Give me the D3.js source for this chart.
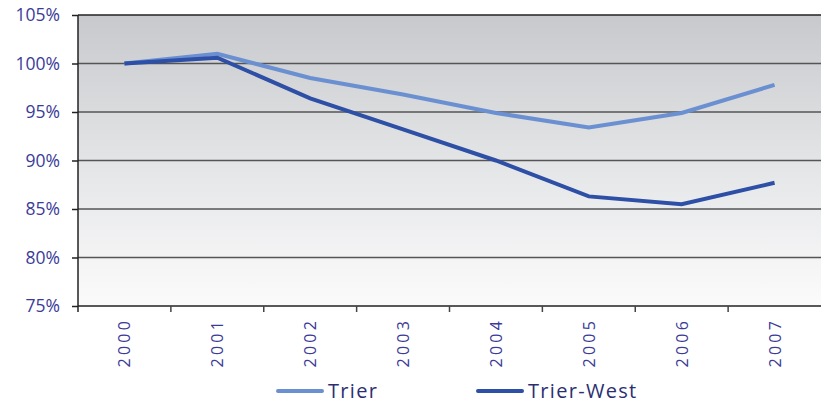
<!DOCTYPE html>
<html>
<head>
<meta charset="utf-8">
<script src="https://cdn.jsdelivr.net/npm/d3@7/dist/d3.min.js"></script>
<style>
  html, body { margin: 0; padding: 0; background: #fff; }
  svg { display: block; }
  text { font-family: "Open Sans", "DejaVu Sans", sans-serif; }
</style>
</head>
<body>
<svg id="chart" width="821" height="404"></svg>
<script>
// Population index, 2000 = 100%
const years = ["2000", "2001", "2002", "2003", "2004", "2005", "2006", "2007"];
const trier = [100.0, 101.0, 98.5, 96.8, 94.9, 93.4, 94.9, 97.8];
const trierWest = [100.0, 100.6, 96.4, 93.2, 90.0, 86.3, 85.5, 87.7];
const yTicks = [75, 80, 85, 90, 95, 100, 105];
const seriesNames = ["Trier", "Trier-West"];

const colors = { "Trier": "#6b90d2", "Trier-West": "#2d4fa6" };
const labelColor = "#3b3b98";

const svg = d3.select("#chart");
const m = { left: 78, right: 0, top: 15, bottom: 98 };
const W = 821, H = 404;
const iw = W - m.left - m.right, ih = H - m.top - m.bottom;

const x = d3.scaleBand().domain(years).range([m.left, W - m.right]);
const y = d3.scaleLinear().domain([75, 105]).range([m.top + ih, m.top]);

// plot-area gradient
const defs = svg.append("defs");
const grad = defs.append("linearGradient").attr("id", "bg")
  .attr("x1", 0).attr("y1", 0).attr("x2", 0).attr("y2", 1);
grad.append("stop").attr("offset", "0%").attr("stop-color", "#c8c9cc");
grad.append("stop").attr("offset", "55%").attr("stop-color", "#e6e7e9");
grad.append("stop").attr("offset", "100%").attr("stop-color", "#fbfbfb");

svg.append("rect")
  .attr("x", m.left).attr("y", m.top)
  .attr("width", iw).attr("height", ih)
  .attr("fill", "url(#bg)");

// horizontal gridlines
svg.append("g").selectAll("line").data(yTicks.filter(t => t > 75))
  .join("line")
  .attr("x1", m.left).attr("x2", W)
  .attr("y1", d => y(d)).attr("y2", d => y(d))
  .attr("stroke", d => d === 105 ? "#222" : "#555")
  .attr("stroke-width", 1.5);

// y axis
const yAxis = svg.append("g")
  .attr("transform", `translate(${m.left},0)`)
  .call(d3.axisLeft(y).tickValues(yTicks).tickSize(6).tickPadding(12).tickFormat(d => d + "%"));
yAxis.select(".domain").attr("stroke", "#222").attr("stroke-width", 1.5)
  .attr("d", `M0,${m.top}V${m.top + ih + 6}`);
yAxis.selectAll(".tick line").attr("stroke", "#222").attr("stroke-width", 1.5);
yAxis.selectAll(".tick text").attr("fill", labelColor).attr("font-size", 17.5);

// x axis: ticks on band boundaries
const xAxis = svg.append("g")
  .attr("transform", `translate(0,${m.top + ih})`);
xAxis.append("line").attr("x1", m.left).attr("x2", W).attr("y1", 0).attr("y2", 0)
  .attr("stroke", "#222").attr("stroke-width", 1.5);
xAxis.selectAll(".bt").data(years.slice(1))
  .join("line").attr("class", "bt")
  .attr("x1", d => x(d)).attr("x2", d => x(d))
  .attr("y1", 0).attr("y2", 6)
  .attr("stroke", "#444").attr("stroke-width", 1.5);
xAxis.selectAll("text").data(years)
  .join("text")
  .attr("transform", d => `translate(${x(d) + x.bandwidth() / 2 + 6},12) rotate(-90)`)
  .attr("text-anchor", "end")
  .attr("fill", labelColor)
  .attr("font-size", 16)
  .attr("letter-spacing", "3.2px")
  .text(d => d);

// series lines
const line = d3.line()
  .x((d, i) => x(years[i]) + x.bandwidth() / 2)
  .y(d => y(d));

const series = [
  { name: "Trier", values: trier },
  { name: "Trier-West", values: trierWest }
];

svg.append("g").selectAll("path").data(series)
  .join("path")
  .attr("d", d => line(d.values))
  .attr("fill", "none")
  .attr("stroke", d => colors[d.name])
  .attr("stroke-width", 4)
  .attr("stroke-linejoin", "miter");

// legend
const legend = svg.append("g").attr("transform", "translate(278,391)");
const lx = [0, 200];
seriesNames.forEach((name, i) => {
  const g = legend.append("g").attr("transform", `translate(${lx[i]},0)`);
  g.append("line").attr("x1", 0).attr("x2", 44).attr("y1", 0).attr("y2", 0)
    .attr("stroke", colors[name]).attr("stroke-width", 4).attr("stroke-linecap", "round");
  g.append("text").attr("x", 50).attr("y", 7)
    .attr("fill", "#2b2f72").attr("font-size", 20)
    .attr("letter-spacing", "1.3px")
    .text(name);
});
</script>
</body>
</html>
